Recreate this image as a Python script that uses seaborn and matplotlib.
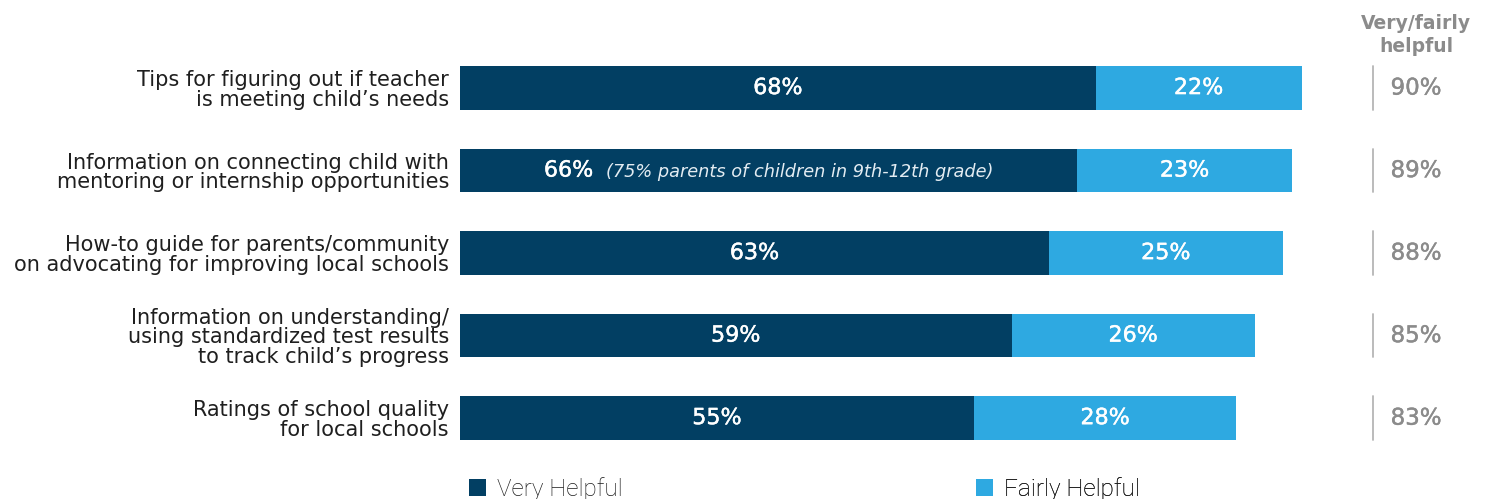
import matplotlib
matplotlib.use("Agg")
import matplotlib.pyplot as plt
import matplotlib.patheffects as pe
from matplotlib.patches import Patch
from matplotlib.offsetbox import TextArea, HPacker, AnnotationBbox
import seaborn as sns
import pandas as pd

categories = [
    "Tips for figuring out if teacher\nis meeting child\u2019s needs",
    "Information on connecting child with\nmentoring or internship opportunities",
    "How-to guide for parents/community\non advocating for improving local schools",
    "Information on understanding/\nusing standardized test results\nto track child\u2019s progress",
    "Ratings of school quality\nfor local schools",
]
very_helpful = [68, 66, 63, 59, 55]
fairly_helpful = [22, 23, 25, 26, 28]
combined = [90, 89, 88, 85, 83]
note_text = "(75% parents of children in 9th-12th grade)"
note_row = 1
series_names = ["Very Helpful", "Fairly Helpful"]
header = "Very/fairly\nhelpful"

DARK = "#023f63"
LIGHT = "#2ea9e1"
GRAY = "#8b8b8b"
TEXT = "#1f1f1f"

sns.set_theme(style="white")
plt.rcParams["font.family"] = ["DejaVu Sans"]

df = pd.DataFrame({
    "category": categories,
    "very": very_helpful,
    "fairly": fairly_helpful,
})
df["stack"] = df["very"] + df["fairly"]

fig = plt.figure(figsize=(14.91, 4.99), dpi=100)
ax = fig.add_axes([460 / 1491, 0, 1 - 460 / 1491, 1])

bar_h = 0.53
sns.barplot(data=df, y="category", x="stack", orient="h", color=LIGHT,
            width=bar_h, saturation=1, ax=ax, linewidth=0)
sns.barplot(data=df, y="category", x="very", orient="h", color=DARK,
            width=bar_h, saturation=1, ax=ax, linewidth=0)

ax.set_xlim(0, 1031 / 9.35)
ax.set_ylim(4.98, -1.067)
ax.set_xlabel("")
ax.set_ylabel("")
ax.set_xticks([])
ax.tick_params(axis="y", length=0, pad=8, labelsize=15, labelcolor=TEXT)
for lbl in ax.get_yticklabels():
    lbl.set_horizontalalignment("right")
    lbl.set_linespacing(0.98)
sns.despine(ax=ax, left=True, bottom=True)

# a thin outline in the text colour gives the figures a medium weight
thick_white = [pe.withStroke(linewidth=0.3, foreground="white")]
thick_gray = [pe.withStroke(linewidth=0.3, foreground=GRAY)]

label_kw = dict(color="white", fontsize=16, path_effects=thick_white)
for i, (v, f) in enumerate(zip(very_helpful, fairly_helpful)):
    if i == note_row:
        box = HPacker(children=[
            TextArea(f"{v}%", textprops=label_kw),
            TextArea(note_text, textprops=dict(color="#e3ecf2", fontsize=12.8,
                                               fontstyle="italic")),
        ], align="baseline", pad=0, sep=9)
        ab = AnnotationBbox(box, (v / 2, i), frameon=False, box_alignment=(0.5, 0.5))
        ax.add_artist(ab)
    else:
        ax.text(v / 2, i, f"{v}%", ha="center", va="center", **label_kw)
    ax.text(v + f / 2, i, f"{f}%", ha="center", va="center", **label_kw)

# Totals column on the right
line_x = (1373 - 460) / 9.35
tot_x = (1416 - 460) / 9.35
for i, c in enumerate(combined):
    ax.plot([line_x, line_x], [i - bar_h / 2, i + bar_h / 2], color="#b5b5b5",
            lw=1.3, clip_on=False)
    ax.text(tot_x, i, f"{c}%", ha="center", va="center", color=GRAY,
            fontsize=16.5, clip_on=False, path_effects=thick_gray)
ax.text(tot_x, -0.64, header, ha="center", va="center", color=GRAY,
        fontsize=13.5, fontweight="bold", linespacing=1.3)

# Legend entries
for name, col, px in zip(series_names, [DARK, LIGHT], [469, 976]):
    leg = ax.legend(handles=[Patch(facecolor=col, edgecolor="none", label=name)],
                    loc="center left", bbox_to_anchor=(px / 1491, 1 - 489 / 499),
                    bbox_transform=fig.transFigure, frameon=False,
                    handlelength=0.7, handleheight=0.7, handletextpad=0.45,
                    borderpad=0, borderaxespad=0,
                    prop={"family": "Roboto", "weight": "light", "size": 17.5})
    for t in leg.get_texts():
        t.set_color("#1a1a1a")
    ax.add_artist(leg)

fig.savefig("out.png", dpi=100)
